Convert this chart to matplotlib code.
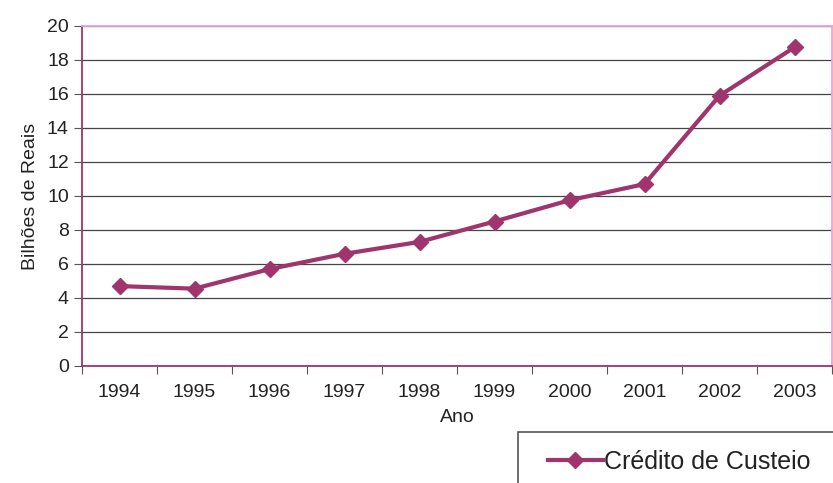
import matplotlib.pyplot as plt
from matplotlib.patches import Rectangle

plt.rcParams['font.family'] = ['Liberation Sans', 'DejaVu Sans']

# dados
anos = ['1994', '1995', '1996', '1997', '1998', '1999', '2000', '2001', '2002', '2003']
credito_custeio = [4.7, 4.55, 5.7, 6.6, 7.3, 8.5, 9.75, 10.7, 15.9, 18.75]

line_color = '#A0346C'

fig = plt.figure(figsize=(8.33, 4.83), dpi=100)
ax = fig.add_axes([82/833, 1 - 366/483, 750/833, 340/483])

x = list(range(len(anos)))
ax.plot(x, credito_custeio, color=line_color, lw=3, marker='D', ms=8.5,
        label='Crédito de Custeio', zorder=3)

ax.set_xlim(-0.5, len(anos) - 0.5)
ax.set_ylim(0, 20)
ax.set_yticks(range(0, 21, 2))
ax.set_xticks([i - 0.5 for i in range(len(anos) + 1)])
ax.set_xticklabels([])
ax.set_xticks(x, minor=True)
ax.set_xticklabels(anos, minor=True)
ax.tick_params(axis='x', which='major', length=6, color='#555555', direction='out')
ax.tick_params(axis='x', which='minor', length=0, pad=13, labelsize=14, labelcolor='#222222')
ax.tick_params(axis='y', length=6, color='#555555', labelsize=14, labelcolor='#222222')

ax.grid(axis='y', color='#444444', lw=0.9)
ax.set_axisbelow(True)

for s in ['top', 'right']:
    ax.spines[s].set_color('#F2A0CF')
    ax.spines[s].set_linewidth(1.3)
for s in ['left', 'bottom']:
    ax.spines[s].set_color('#A0346C')
    ax.spines[s].set_linewidth(1.3)

ax.set_xlabel('Ano', fontsize=14, color='#222222', labelpad=6)
ax.set_ylabel('Bilhões de Reais', fontsize=14, color='#222222', labelpad=6)

# caixa da legenda (cortada pela borda da figura)
fig.patches.append(Rectangle((518/833, -0.1), 0.5, 1 - 432/483 + 0.1, transform=fig.transFigure,
                             fill=False, edgecolor='#555555', lw=1.2))
fig.legend(loc='center left', bbox_to_anchor=(525/833, 1 - 462/483), frameon=False,
           fontsize=18, handlelength=2.2, handletextpad=0.05, labelcolor='#222222')

fig.savefig('out.png', dpi=100)
